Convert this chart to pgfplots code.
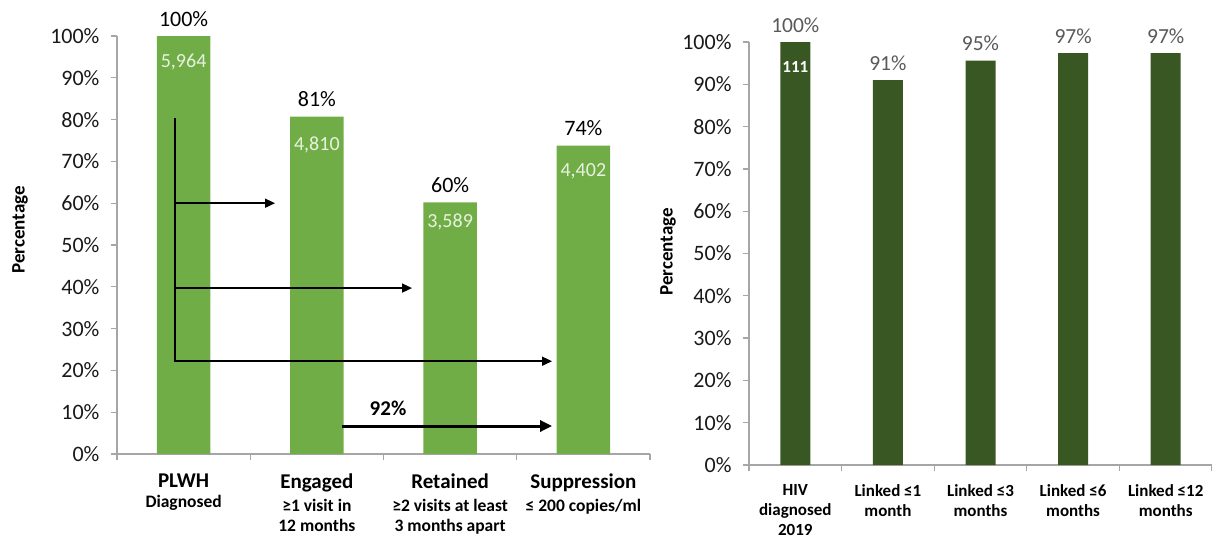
\documentclass[border=0pt]{standalone}
\usepackage{fontspec}
\setmainfont{Carlito}
\usepackage{pgfplots}
\pgfplotsset{compat=1.18}
\usetikzlibrary{arrows.meta}
\definecolor{lgreen}{RGB}{112,173,71}
\definecolor{dgreen}{RGB}{56,87,35}
\definecolor{axgray}{RGB}{166,166,166}
\definecolor{lblgray}{RGB}{89,89,89}
\definecolor{txt}{RGB}{25,25,25}
\definecolor{inlbl}{RGB}{232,242,222}
\newcommand{\fs}[2]{\fontsize{#1}{#2}\selectfont}
\pgfplotsset{
  mybase/.style={
    scale only axis, anchor=south west,
    ymin=0, ymax=100, ytick={0,10,...,100},
    yticklabel={\pgfmathprintnumber{\tick}\%},
    /pgf/number format/assume math mode=true,
    axis x line*=bottom, axis y line*=left,
    axis line style={axgray, line width=1.3pt, -},
    tick style={axgray, line width=1.3pt},
    tick align=outside,
    major tick length=6pt, minor tick length=6pt,
    major x tick style={draw=none},
    yticklabel style={font=\fs{22}{26}, text=txt, xshift=-8pt},
    xticklabel style={align=center, anchor=north, text=black},
    ylabel={Percentage},
  }
}
\begin{document}
\begin{tikzpicture}[x=1pt,y=1pt]
\useasboundingbox (0,0) rectangle (1212,-542);
% ---------------- left chart ----------------
\begin{axis}[mybase, at={(117pt,-454pt)}, width=533pt, height=418pt,
  xmin=-0.5, xmax=3.5, xtick={0,1,2,3}, minor xtick={-0.5,0.5,1.5,2.5,3.5},
  xticklabel style={font=\bfseries\fs{17.5}{20}, yshift=-10pt},
  xticklabels={
    {\fs{21}{20}PLWH\\\fs{17.5}{20}Diagnosed},
    {\fs{21}{20}Engaged\\[3pt]\fs{17.5}{20}≥1 visit in\\12 months},
    {\fs{21}{20}Retained\\[3pt]\fs{17.5}{20}≥2 visits at least\\3 months apart},
    {\fs{21}{20}Suppression\\[3pt]\fs{17.5}{20}≤ 200 copies/ml}},
  ylabel style={font=\bfseries\fs{19}{22}, at={(axis description cs:-0.182,0.536)}, anchor=center},
]
\addplot[ybar, bar width=0.4, fill=lgreen, draw=none,
  point meta=explicit,
  nodes near coords={\pgfmathprintnumber{\pgfplotspointmeta}\%},
  nodes near coords style={font=\fs{22}{26}, text=black, yshift=6pt}]
  table[x=x, y=y, meta=l] {
x y l
0 100 100
1 80.7 81
2 60.2 60
3 73.8 74
};
\node[font=\fs{20}{24}, text=inlbl] at (axis cs:0,100) [yshift=-26pt] {5,964};
\node[font=\fs{20}{24}, text=inlbl] at (axis cs:1,80.7) [yshift=-28pt] {4,810};
\node[font=\fs{20}{24}, text=inlbl] at (axis cs:2,60.2) [yshift=-20pt] {3,589};
\node[font=\fs{20}{24}, text=inlbl] at (axis cs:3,73.8) [yshift=-26pt] {4,402};
% arrows
\draw[black, line width=1.6pt] (axis cs:-0.065,80.4) -- (axis cs:-0.065,22.2);
\draw[black, line width=1.6pt, -{Triangle[length=10pt,width=9pt]}] (axis cs:-0.075,60.0) -- (axis cs:0.686,60.0);
\draw[black, line width=1.6pt, -{Triangle[length=10pt,width=9pt]}] (axis cs:-0.075,39.7) -- (axis cs:1.714,39.7);
\draw[black, line width=1.6pt, -{Triangle[length=10pt,width=9pt]}] (axis cs:-0.075,22.2) -- (axis cs:2.765,22.2);
\draw[black, line width=3pt, -{Triangle[length=12pt,width=11pt]}] (axis cs:1.189,6.7) -- (axis cs:2.765,6.7);
\node[font=\bfseries\fs{21}{25}, text=black] at (axis cs:1.534,11.0) {92\%};
\end{axis}
% ---------------- right chart ----------------
\begin{axis}[mybase, at={(749pt,-465pt)}, width=463pt, height=423pt,
  xmin=-0.5, xmax=4.5, xtick={0,1,2,3,4}, minor xtick={-0.5,0.5,1.5,2.5,3.5,4.5},
  xticklabels={{HIV\\diagnosed\\2019},{Linked ≤1\\month},{Linked ≤3\\months},{Linked ≤6\\months},{Linked ≤12\\months}},
  xticklabel style={font=\bfseries\fs{17}{20}, yshift=-10pt},
  ylabel style={font=\bfseries\fs{19}{22}, at={(axis description cs:-0.175,0.504)}, anchor=center},
]
\addplot[ybar, bar width=0.324, fill=dgreen, draw=none,
  point meta=explicit,
  nodes near coords={\pgfmathprintnumber{\pgfplotspointmeta}\%},
  nodes near coords style={font=\fs{21.5}{25}, text=lblgray, yshift=6pt}]
  table[x=x, y=y, meta=l] {
x y l
0 100 100
1 91.0 91
2 95.6 95
3 97.4 97
4 97.4 97
};
\node[font=\bfseries\fs{17}{20}, text=white] at (axis cs:0,100) [yshift=-25pt] {111};
\end{axis}
\end{tikzpicture}
\end{document}
